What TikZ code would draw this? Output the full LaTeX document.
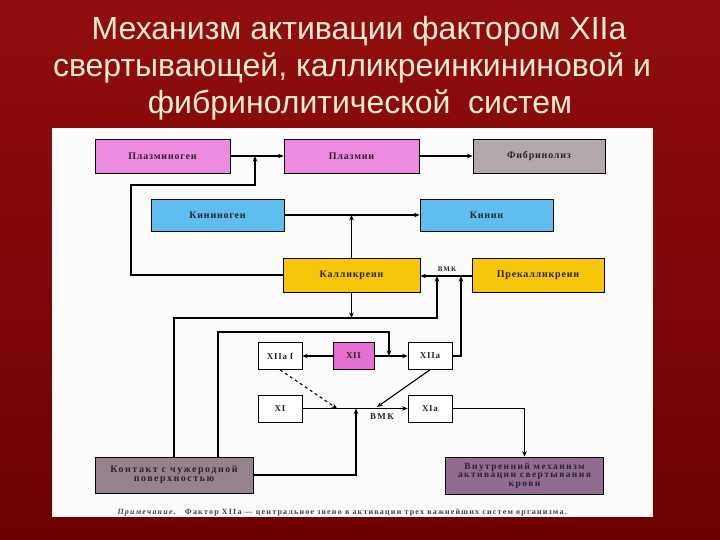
\documentclass[tikz,border=0pt]{standalone}
\usepackage{fontspec}
\setmainfont{Liberation Serif}
\newfontfamily\titlefont{Liberation Sans}
\newfontfamily\lblfont[LetterSpace=15]{Liberation Serif}
\newfontfamily\boxfont[LetterSpace=8]{Liberation Serif}
\newfontfamily\capfont[LetterSpace=15]{Liberation Serif}
\usetikzlibrary{arrows.meta}
\definecolor{bgtop}{RGB}{145,14,14}
\definecolor{bgbot}{RGB}{110,0,0}
\definecolor{titlecol}{RGB}{250,236,212}
\definecolor{pinkbox}{RGB}{236,140,222}
\definecolor{pinkdeep}{RGB}{228,110,210}
\definecolor{bluebox}{RGB}{95,190,240}
\definecolor{yellowbox}{RGB}{245,198,10}
\definecolor{graybox}{RGB}{178,168,172}
\definecolor{contactbox}{RGB}{150,130,140}
\definecolor{intrbox}{RGB}{145,108,145}
\definecolor{txtcol}{RGB}{40,35,45}
\definecolor{capcol}{RGB}{70,65,70}
\begin{document}
\begin{tikzpicture}[x=1pt,y=-1pt,
  box/.style={draw=black,line width=0.9pt,inner sep=0pt,align=center,
    font=\boxfont\bfseries\fontsize{10}{11}\selectfont,text=txtcol},
  bigbox/.style={box,minimum width=134pt,minimum height=34pt},
  smallbox/.style={box,fill=white,line width=0.6pt,minimum width=44pt,minimum height=27pt,
    font=\boxfont\bfseries\fontsize{9}{10}\selectfont},
  conn/.style={line width=1.1pt,-{Stealth[length=5.5pt,width=4.5pt]}},
  titletext/.style={anchor=base,text=titlecol,font=\titlefont\fontsize{32}{37}\selectfont},
]
\useasboundingbox (0,0) rectangle (720,540);
\shade[top color=bgtop,bottom color=bgbot] (0,0) rectangle (720,540);
\fill[white!97!gray] (52,128) rectangle (653,517);

% title
\node[titletext] (t1) at (359,40) {Механизм активации фактором XIIa};
\node[titletext] (t2) at (352,77) {свертывающей, калликреинкининовой и};
\node[titletext] (t3) at (360,114) {фибринолитической\ \ систем};

% boxes
\node[bigbox,fill=pinkbox,minimum width=135pt] (pg) at (162.5,156) {Плазминоген};
\node[bigbox,fill=pinkbox,minimum width=135pt] (pm) at (351.5,156) {Плазмин};
\node[bigbox,fill=graybox,minimum width=132pt] (fib) at (539,156) {Фибринолиз};
\node[bigbox,fill=bluebox,minimum width=133pt,minimum height=32pt] (kg) at (217.5,215) {Кининоген};
\node[bigbox,fill=bluebox,minimum width=133pt,minimum height=32pt] (kin) at (486.5,215) {Кинин};
\node[bigbox,fill=yellowbox,minimum width=137pt] (kal) at (351.5,275) {Калликреин};
\node[bigbox,fill=yellowbox,minimum width=132pt] (pre) at (538,275) {Прекалликреин};

\node[smallbox] (x12af) at (280,356) {XIIa f};
\node[smallbox,fill=pinkdeep,minimum width=41pt] (x12) at (353.5,356) {XII};
\node[smallbox] (x12a) at (430,356) {XIIa};
\node[smallbox] (x11) at (280,408.5) {XI};
\node[smallbox] (x11a) at (430,408.5) {XIa};

\node[box,fill=contactbox,minimum width=158pt,minimum height=36pt,
  font=\lblfont\bfseries\fontsize{10}{9}\selectfont] (contact) at (174,475)
  {Контакт с чужеродной\\поверхностью};
\node[box,fill=intrbox,minimum width=158pt,minimum height=37pt,
  font=\lblfont\bfseries\fontsize{9.5}{8.6}\selectfont] (intr) at (524.5,475.5)
  {Внутренний механизм\\активации свертывания\\крови};

\node[font=\lblfont\bfseries\fontsize{7}{8}\selectfont,text=txtcol] (bmk1) at (447,269) {ВМК};
\node[font=\lblfont\bfseries\fontsize{9}{10}\selectfont,text=txtcol] (bmk2) at (382,417) {ВМК};

\node[anchor=base west,font=\capfont\bfseries\fontsize{8}{9}\selectfont,text=capcol] (cap) at (114,514)
  {\textit{Примечание.}\quad Фактор XIIa — центральное звено в активации трех важнейших систем организма.};

% junction and bend points
\coordinate (j1) at (255,156);
\coordinate (lb) at (131,185);
\coordinate (b1) at (437,318);
\coordinate (e1) at (437,276);
\coordinate (b2) at (389,332);
\coordinate (e2) at (461,276);
\coordinate (d1) at (337,408.5);
\coordinate (d2) at (377,407);
\coordinate (j5) at (356,408.5);

% connectors
\draw[conn] (pg) -- (pm);
\draw[conn] (pm) -- (fib);
\draw[conn] (kg) -- (kin);
\draw[conn] (kal.west) -| (lb) -| (j1);
\draw[conn] (kal.north) -- (kal.north |- kg.east);
\draw[conn] ([yshift=-1pt]pre.west) -- ([yshift=-1pt]kal.east);
\draw[conn] (kal.south) -- (kal.south |- b1);
\draw[conn] (contact.north) |- (b1) -- (e1);
\draw[conn] ([xshift=44pt]contact.north) |- (b2) -- (b2 |- x12.east);
\draw[conn] (x12) -- (x12af);
\draw[conn] (x12) -- (x12a);
\draw[conn] (x12a.east) -| (e2);
\draw[conn,dashed] (x12af.south) -- (d1);
\draw[conn] (x12a.south) -- (d2);
\draw[conn] (x11) -- (x11a);
\draw[conn] (contact.east) -| (j5);
\draw[conn] (x11a.east) -| (intr.north);
\end{tikzpicture}
\end{document}
